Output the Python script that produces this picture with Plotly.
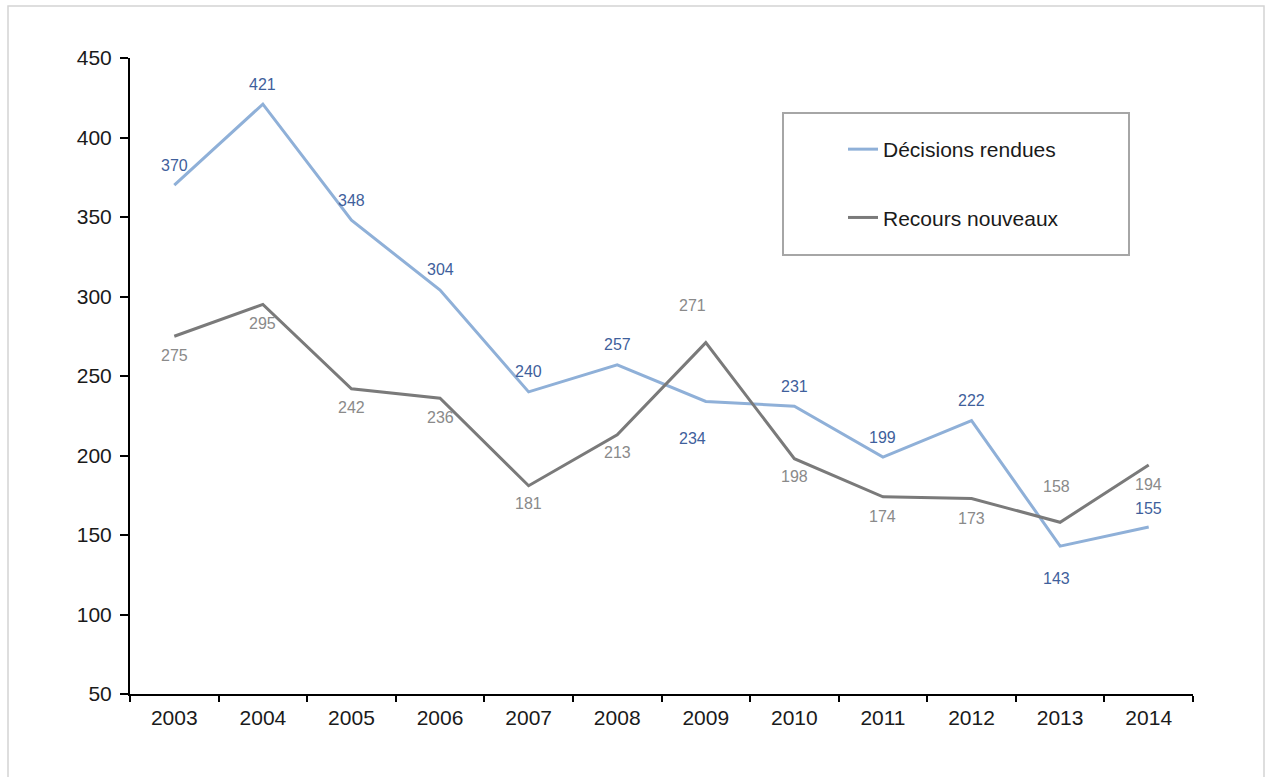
import plotly.graph_objects as go

# Données
annees = ["2003", "2004", "2005", "2006", "2007", "2008",
          "2009", "2010", "2011", "2012", "2013", "2014"]
decisions_rendues = [370, 421, 348, 304, 240, 257, 234, 231, 199, 222, 143, 155]
recours_nouveaux = [275, 295, 242, 236, 181, 213, 271, 198, 174, 173, 158, 194]

# Placement des étiquettes de valeur (décalage vertical en px, + = vers le haut)
decal_decisions = [20, 20, 20, 21, 20, 20, -37, 20, 20, 20, -32, 19]
decal_recours = [-19, -19, -19, -19, -18, -18, 37, -18, -20, -20, 36, -19]
decal_x = [0, 0, 0, 0, 0, 0, -13, 0, 0, 0, -4, 0]

BLEU = "#8fb0d8"
GRIS = "#7a7a7a"
BLEU_TXT = "#3f5f9c"
GRIS_TXT = "#8a8a8a"
POLICE = "Liberation Sans, Arial, sans-serif"

fig = go.Figure()
fig.add_trace(go.Scatter(
    x=annees, y=decisions_rendues, mode="lines", name="Décisions rendues",
    line=dict(color=BLEU, width=3), legendgroup="a"))
fig.add_trace(go.Scatter(
    x=annees, y=recours_nouveaux, mode="lines", name="Recours nouveaux",
    line=dict(color=GRIS, width=3), legendgroup="b"))

# Sur un axe catégoriel, les annotations se placent par indice de catégorie
annotations = []
for i, a in enumerate(annees):
    annotations.append(dict(
        x=i, y=decisions_rendues[i], text=str(decisions_rendues[i]),
        showarrow=False, yshift=decal_decisions[i], xshift=decal_x[i],
        font=dict(family=POLICE, size=16, color=BLEU_TXT)))
    annotations.append(dict(
        x=i, y=recours_nouveaux[i], text=str(recours_nouveaux[i]),
        showarrow=False, yshift=decal_recours[i], xshift=decal_x[i],
        font=dict(family=POLICE, size=16, color=GRIS_TXT)))

L, R, T, B = 130, 74, 58, 83
W, H = 1267, 777
pw, ph = W - L - R, H - T - B


def px_x(p):
    return (p - L) / pw


def px_y(p):
    return (H - B - p) / ph


shapes = [
    # cadre extérieur
    dict(type="rect", xref="paper", yref="paper",
         x0=px_x(8), x1=px_x(1264), y0=px_y(790), y1=px_y(6),
         line=dict(color="#d4d4d4", width=1.5), layer="below"),
    # cadre de la légende
    dict(type="rect", xref="paper", yref="paper",
         x0=px_x(783), x1=px_x(1129), y0=px_y(255), y1=px_y(113),
         line=dict(color="#a6a6a6", width=2)),
]

fig.update_layout(
    width=W, height=H,
    margin=dict(l=L, r=R, t=T, b=B),
    paper_bgcolor="white", plot_bgcolor="white",
    font=dict(family=POLICE, size=20, color="#1a1a1a"),
    showlegend=True,
    legend=dict(
        x=px_x(843), y=px_y(129), xanchor="left", yanchor="top",
        bgcolor="rgba(0,0,0,0)", borderwidth=0,
        font=dict(family=POLICE, size=21, color="#1a1a1a"),
        traceorder="grouped", tracegroupgap=38),
    annotations=annotations,
    shapes=shapes,
    xaxis=dict(
        type="category", tickson="boundaries", ticks="outside",
        range=[-0.5, len(annees) - 0.5],
        ticklen=6, tickwidth=2, tickcolor="black",
        showline=True, linecolor="black", linewidth=2,
        showgrid=False, zeroline=False, tickangle=0,
        ticklabelstandoff=4,
        tickfont=dict(family=POLICE, size=21, color="#1a1a1a")),
    yaxis=dict(
        range=[50, 450], dtick=50, tick0=50, ticks="outside",
        ticklen=8, tickwidth=2, tickcolor="black",
        showline=True, linecolor="black", linewidth=2,
        showgrid=False, zeroline=False,
        ticklabelstandoff=4,
        tickfont=dict(family=POLICE, size=21, color="#1a1a1a")),
)

fig.write_html("out.html")
